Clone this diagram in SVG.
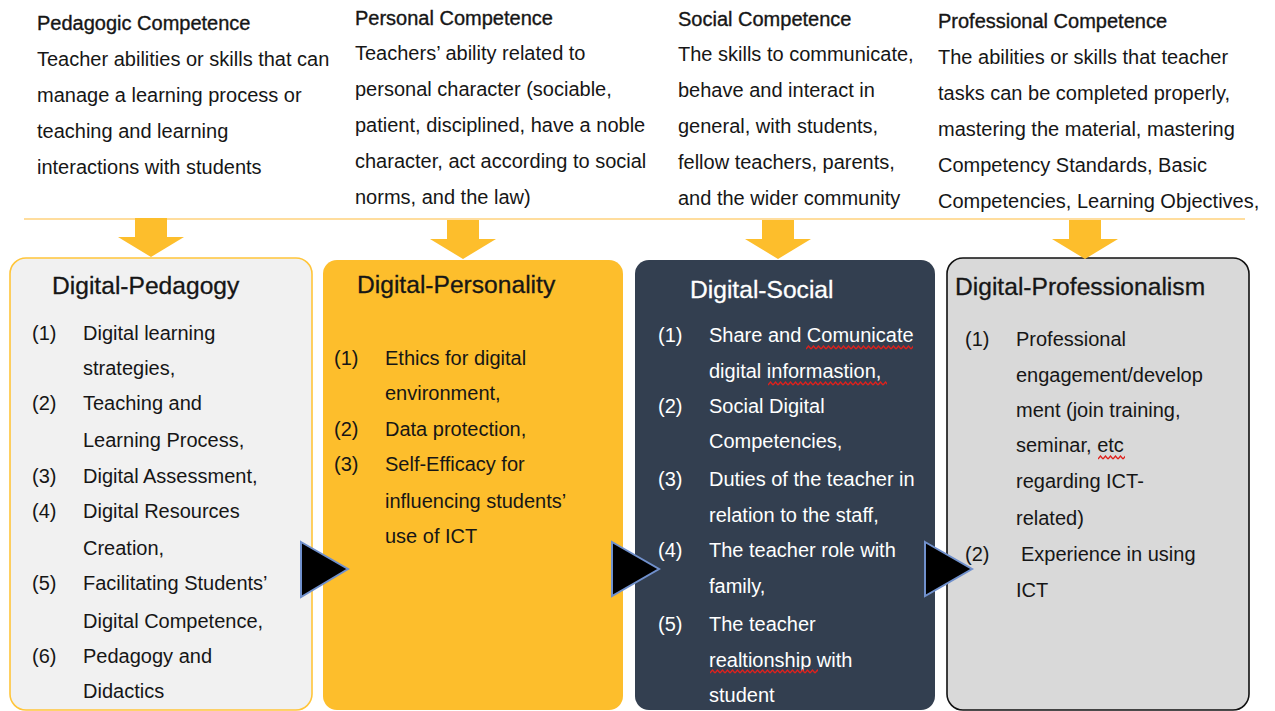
<svg xmlns="http://www.w3.org/2000/svg" width="1275" height="711" viewBox="0 0 1275 711">
<style>
text{font-family:"Liberation Sans",Arial,Helvetica,sans-serif;font-size:20px;fill:#161616}
.h{stroke:#161616;stroke-width:0.35}
.t{font-size:24.6px;stroke:#161616;stroke-width:0.3}
.w{fill:#ffffff}
.t.w{stroke:#ffffff}
.ar{fill:#FDBE2C}
.tri{fill:#000;stroke:#7090CC;stroke-width:2;stroke-linejoin:miter}
</style>
<defs>
<path id="barrow" d="M-16,0 H16 V19 H33 L0,39 L-33,19 H-16 Z"/>
<pattern id="wavy" width="5" height="5" patternUnits="userSpaceOnUse">
<path d="M0,4 L2.5,1 L5,4" fill="none" stroke="#E0201B" stroke-width="1.3"/>
</pattern>
</defs>
<rect width="1275" height="711" fill="#ffffff"/>

<g id="top-texts">
<g id="pedagogic-competence">
<text class="h" x="37" y="30">Pedagogic Competence</text>
<text x="37" y="66">Teacher abilities or skills that can</text>
<text x="37" y="102">manage a learning process or</text>
<text x="37" y="138">teaching and learning</text>
<text x="37" y="174">interactions with students</text>
</g>
<g id="personal-competence">
<text class="h" x="355" y="25">Personal Competence</text>
<text x="355" y="60">Teachers’ ability related to</text>
<text x="355" y="96">personal character (sociable,</text>
<text x="355" y="132">patient, disciplined, have a noble</text>
<text x="355" y="168">character, act according to social</text>
<text x="355" y="204">norms, and the law)</text>
</g>
<g id="social-competence">
<text class="h" x="678" y="26">Social Competence</text>
<text x="678" y="61">The skills to communicate,</text>
<text x="678" y="97">behave and interact in</text>
<text x="678" y="133">general, with students,</text>
<text x="678" y="169">fellow teachers, parents,</text>
<text x="678" y="205">and the wider community</text>
</g>
<g id="professional-competence">
<text class="h" x="938" y="28">Professional Competence</text>
<text x="938" y="64">The abilities or skills that teacher</text>
<text x="938" y="100">tasks can be completed properly,</text>
<text x="938" y="136">mastering the material, mastering</text>
<text x="938" y="172">Competency Standards, Basic</text>
<text x="938" y="208">Competencies, Learning Objectives,</text>
</g>
</g>

<line x1="24" y1="219" x2="1245" y2="219" stroke="#FFD27D" stroke-width="1.5"/>

<g id="digital-pedagogy">
<rect x="10" y="258" width="302" height="452" rx="16" fill="#F1F1F1" stroke="#FFC53A" stroke-width="1.6"/>
<text class="t" x="52" y="294">Digital-Pedagogy</text>
<text x="32" y="340">(1)</text><text x="83" y="340">Digital learning</text>
<text x="83" y="375">strategies,</text>
<text x="32" y="410">(2)</text><text x="83" y="410">Teaching and</text>
<text x="83" y="447">Learning Process,</text>
<text x="32" y="483">(3)</text><text x="83" y="483">Digital Assessment,</text>
<text x="32" y="518">(4)</text><text x="83" y="518">Digital Resources</text>
<text x="83" y="555">Creation,</text>
<text x="32" y="590">(5)</text><text x="83" y="590">Facilitating Students’</text>
<text x="83" y="628">Digital Competence,</text>
<text x="32" y="663">(6)</text><text x="83" y="663">Pedagogy and</text>
<text x="83" y="698">Didactics</text>
</g>

<g id="digital-personality">
<rect x="323" y="260" width="300" height="450" rx="14" fill="#FDBE2C"/>
<text class="t" x="357" y="293">Digital-Personality</text>
<text x="334" y="365">(1)</text><text x="385" y="365">Ethics for digital</text>
<text x="385" y="400">environment,</text>
<text x="334" y="436">(2)</text><text x="385" y="436">Data protection,</text>
<text x="334" y="471">(3)</text><text x="385" y="471">Self-Efficacy for</text>
<text x="385" y="508">influencing students’</text>
<text x="385" y="543">use of ICT</text>
</g>

<g id="digital-social">
<rect x="635" y="260" width="300" height="450" rx="14" fill="#333F50"/>
<text class="t w" x="690" y="298">Digital-Social</text>
<text class="w" x="658" y="342">(1)</text><text class="w" x="709" y="342">Share and Comunicate</text>
<text class="w" x="709" y="378">digital informastion,</text>
<text class="w" x="658" y="413">(2)</text><text class="w" x="709" y="413">Social Digital</text>
<text class="w" x="709" y="448">Competencies,</text>
<text class="w" x="658" y="486">(3)</text><text class="w" x="709" y="486">Duties of the teacher in</text>
<text class="w" x="709" y="522">relation to the staff,</text>
<text class="w" x="658" y="557">(4)</text><text class="w" x="709" y="557">The teacher role with</text>
<text class="w" x="709" y="593">family,</text>
<text class="w" x="658" y="631">(5)</text><text class="w" x="709" y="631">The teacher</text>
<text class="w" x="709" y="667">realtionship with</text>
<text class="w" x="709" y="702">student</text>
<g transform="translate(806,345)"><rect width="107" height="5" fill="url(#wavy)"/></g>
<g transform="translate(768,381)"><rect width="119" height="5" fill="url(#wavy)"/></g>
<g transform="translate(710,669)"><rect width="108" height="5" fill="url(#wavy)"/></g>
</g>

<g id="digital-professionalism">
<rect x="947" y="258" width="302" height="452" rx="16" fill="#D9D9D9" stroke="#111" stroke-width="1.6"/>
<text class="t" x="955" y="295">Digital-Professionalism</text>
<text x="965" y="346">(1)</text><text x="1016" y="346">Professional</text>
<text x="1016" y="382">engagement/develop</text>
<text x="1016" y="417">ment (join training,</text>
<text x="1016" y="452">seminar, etc</text>
<text x="1016" y="488">regarding ICT-</text>
<text x="1016" y="525">related)</text>
<text x="965" y="561">(2)</text><text x="1021" y="561">Experience in using</text>
<text x="1016" y="597">ICT</text>
<g transform="translate(1098,455)"><rect width="27" height="5" fill="url(#wavy)"/></g>
</g>

<g id="connectors">
<use href="#barrow" class="ar" x="151" y="218"/>
<use href="#barrow" class="ar" x="463" y="220"/>
<use href="#barrow" class="ar" x="778" y="220"/>
<use href="#barrow" class="ar" x="1085" y="220"/>
<polygon class="tri" points="301,542 348,569 301,597"/>
<polygon class="tri" points="612,542 659,569 612,596"/>
<polygon class="tri" points="925,542 972,569 925,596"/>
</g>
</svg>
